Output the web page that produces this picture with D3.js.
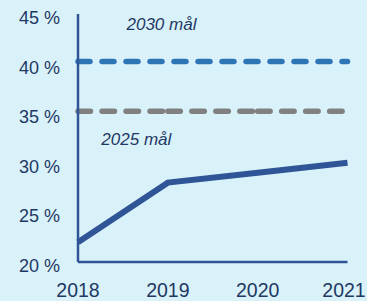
<!DOCTYPE html>
<html>
<head>
<meta charset="utf-8">
<script src="https://cdn.jsdelivr.net/npm/d3@7"></script>
<style>
  html, body { margin: 0; padding: 0; background: #d9f2fa; }
  svg { display: block; }
  text { font-family: "Liberation Sans", Arial, sans-serif; fill: #1f3864; }
</style>
</head>
<body>
<div id="chart"></div>
<script>
// data
const years = [2018, 2019, 2020, 2021];
const share = [22.0, 28.0, 29.0, 30.0];
const goal2030 = 40.2;
const goal2025 = 35.2;
const yTicks = [20, 25, 30, 35, 40, 45];
const goalLabels = [
  { text: "2030 mål", year: 2018.54, value: 43.4 },
  { text: "2025 mål", year: 2018.26, value: 31.8 }
];

const width = 367, height = 301;

const svg = d3.select('#chart').append('svg')
  .attr('width', width)
  .attr('height', height);

const x = d3.scaleLinear().domain([2018, 2021]).range([78, 347.5]);
const y = d3.scaleLinear().domain([20, 45]).range([262, 14]);

// goal lines
svg.append('line')
  .attr('x1', x(2018)).attr('x2', x(2021))
  .attr('y1', y(goal2030)).attr('y2', y(goal2030))
  .attr('stroke', '#2e75b6')
  .attr('stroke-width', 5.5)
  .attr('stroke-linecap', 'round')
  .attr('stroke-dasharray', '12 12');

// grey one is drawn per year segment, so the dash pattern restarts
svg.selectAll('line.g2025')
  .data(d3.pairs(years))
  .join('line')
  .classed('g2025', true)
  .attr('x1', d => x(d[0])).attr('x2', d => x(d[1]))
  .attr('y1', y(goal2025)).attr('y2', y(goal2025))
  .attr('stroke', '#808080')
  .attr('stroke-width', 5.5)
  .attr('stroke-linecap', 'round')
  .attr('stroke-dasharray', '12.5 11.5');

svg.selectAll('text.goal')
  .data(goalLabels)
  .join('text')
  .classed('goal', true)
  .attr('x', d => x(d.year))
  .attr('y', d => y(d.value))
  .attr('font-size', 17)
  .attr('font-style', 'italic')
  .text(d => d.text);

// main line
svg.append('path')
  .datum(years.map((yr, i) => [yr, share[i]]))
  .attr('fill', 'none')
  .attr('stroke', '#2f5597')
  .attr('stroke-width', 6)
  .attr('d', d3.line().x(d => x(d[0])).y(d => y(d[1])));

// axes
svg.append('line')
  .attr('x1', x(2018)).attr('x2', x(2018))
  .attr('y1', y(45)).attr('y2', y(20))
  .attr('stroke', '#2f5597').attr('stroke-width', 2.5);
svg.append('line')
  .attr('x1', x(2018)).attr('x2', x(2021))
  .attr('y1', y(20)).attr('y2', y(20))
  .attr('stroke', '#2f5597').attr('stroke-width', 2.5);

svg.selectAll('text.ytick')
  .data(yTicks)
  .join('text')
  .classed('ytick', true)
  .attr('x', 60)
  .attr('y', d => y(d) + 10)
  .attr('text-anchor', 'end')
  .attr('font-size', 18)
  .text(d => d + ' %');

// last year label is pulled in so it stays inside the frame
svg.selectAll('text.xtick')
  .data(years)
  .join('text')
  .classed('xtick', true)
  .attr('x', d => Math.min(x(d), width - 23))
  .attr('y', 297)
  .attr('text-anchor', 'middle')
  .attr('font-size', 19.5)
  .text(d => d);
</script>
</body>
</html>
